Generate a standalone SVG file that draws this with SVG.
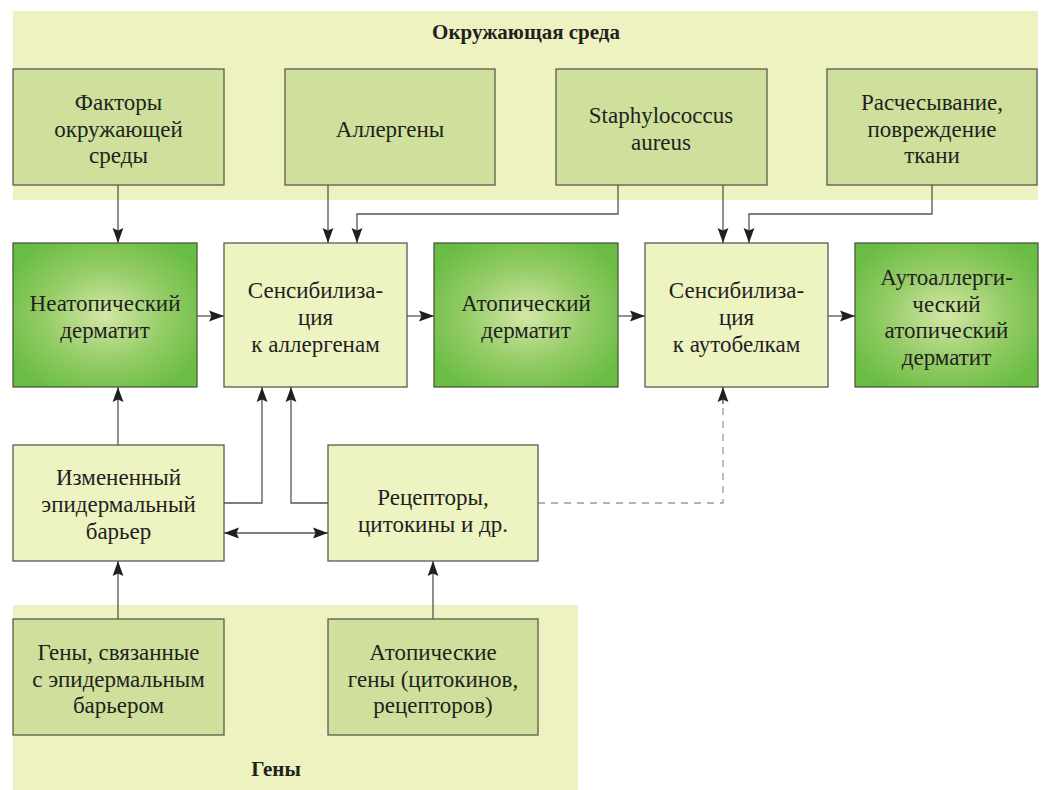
<svg xmlns="http://www.w3.org/2000/svg" width="1043" height="790" viewBox="0 0 1043 790">
<defs>
<radialGradient id="g" cx="50%" cy="50%" r="60%">
<stop offset="0" stop-color="#d4e7a6"/>
<stop offset="0.55" stop-color="#94cc66"/>
<stop offset="1" stop-color="#6abd44"/>
</radialGradient>
<marker id="a" markerUnits="userSpaceOnUse" markerWidth="16" markerHeight="12" viewBox="0 0 16 12" refX="15" refY="6" orient="auto-start-reverse">
<path d="M0,0.6 L15,6 L0,11.4 L2.5,6 z" fill="#231f20"/>
</marker>
<style>
.band{fill:#edf2c0}
.top{fill:#cee09c;stroke:#5a5a50;stroke-width:1.3}
.lt{fill:#eef3c2;stroke:#5a5a50;stroke-width:1.3}
.gr{fill:url(#g);stroke:#4a5a3a;stroke-width:1.3}
text{font-family:'Liberation Serif','Times New Roman',Times,Tinos,'DejaVu Serif','Noto Serif',Georgia,serif;font-size:23px;fill:#231f20;text-anchor:middle}
.b{font-weight:bold;font-size:21px}
.c{fill:none;stroke:#555;stroke-width:1.3}
.d{fill:none;stroke:#9a9a9a;stroke-width:1.3;stroke-dasharray:7 6}
</style>
</defs>
<rect class="band" x="13" y="11" width="1025" height="189"/>
<rect class="band" x="13" y="605" width="565" height="185"/>
<text class="b" x="526" y="39">Окружающая среда</text>
<text class="b" x="276" y="776">Гены</text>

<g id="connectors">
<path class="c" d="M118,185 V243" marker-end="url(#a)"/>
<path class="c" d="M328,185 V243" marker-end="url(#a)"/>
<path class="c" d="M618,185 V214 H357 V243" marker-end="url(#a)"/>
<path class="c" d="M723,185 V243" marker-end="url(#a)"/>
<path class="c" d="M932,185 V214 H749 V243" marker-end="url(#a)"/>
<path class="c" d="M197,316 H224" marker-end="url(#a)"/>
<path class="c" d="M407,316 H434" marker-end="url(#a)"/>
<path class="c" d="M618,316 H645" marker-end="url(#a)"/>
<path class="c" d="M828,316 H855" marker-end="url(#a)"/>
<path class="c" d="M118,445 V387" marker-end="url(#a)"/>
<path class="c" d="M224,503 H262 V387" marker-end="url(#a)"/>
<path class="c" d="M328,503 H291 V387" marker-end="url(#a)"/>
<path class="d" d="M538,503 H723 V400"/>
<path class="c" d="M723,404 V387" marker-end="url(#a)"/>
<path class="c" d="M224,533 H328" marker-start="url(#a)" marker-end="url(#a)"/>
<path class="c" d="M118,619 V561" marker-end="url(#a)"/>
<path class="c" d="M433,619 V561" marker-end="url(#a)"/>
</g>

<g id="n-factors"><rect class="top" x="13" y="69" width="211" height="116"/>
<text x="118.5" y="110">Факторы</text><text x="118.5" y="137">окружающей</text><text x="118.5" y="163">среды</text></g>
<g id="n-allergens"><rect class="top" x="285" y="69" width="210" height="116"/>
<text x="390" y="137">Аллергены</text></g>
<g id="n-staph"><rect class="top" x="556" y="69" width="211" height="116"/>
<text x="661" y="123">Staphylococcus</text><text x="661" y="150">aureus</text></g>
<g id="n-scratch"><rect class="top" x="827" y="69" width="210" height="116"/>
<text x="932" y="110">Расчесывание,</text><text x="932" y="137">повреждение</text><text x="932" y="163">ткани</text></g>

<g id="n-neatopic"><rect class="gr" x="13" y="243" width="184" height="144"/>
<text x="105" y="311">Неатопический</text><text x="105" y="338">дерматит</text></g>
<g id="n-sens1"><rect class="lt" x="224" y="243" width="183" height="144"/>
<text x="315.5" y="298">Сенсибилиза-</text><text x="315.5" y="325">ция</text><text x="315.5" y="352">к аллергенам</text></g>
<g id="n-atopic"><rect class="gr" x="434" y="243" width="184" height="144"/>
<text x="526" y="311">Атопический</text><text x="526" y="338">дерматит</text></g>
<g id="n-sens2"><rect class="lt" x="645" y="243" width="183" height="144"/>
<text x="736.5" y="298">Сенсибилиза-</text><text x="736.5" y="325">ция</text><text x="736.5" y="352">к аутобелкам</text></g>
<g id="n-autoallergic"><rect class="gr" x="855" y="243" width="183" height="144"/>
<text x="946.5" y="285">Аутоаллерги-</text><text x="946.5" y="312">ческий</text><text x="946.5" y="338">атопический</text><text x="946.5" y="365">дерматит</text></g>

<g id="n-barrier"><rect class="lt" x="13" y="445" width="211" height="116"/>
<text x="118.5" y="485">Измененный</text><text x="118.5" y="512">эпидермальный</text><text x="118.5" y="539">барьер</text></g>
<g id="n-receptors"><rect class="lt" x="328" y="445" width="210" height="116"/>
<text x="433" y="505">Рецепторы,</text><text x="433" y="532">цитокины и др.</text></g>

<g id="n-genes-barrier"><rect class="top" x="13" y="619" width="211" height="116"/>
<text x="118.5" y="660">Гены, связанные</text><text x="118.5" y="687">с эпидермальным</text><text x="118.5" y="713">барьером</text></g>
<g id="n-genes-atopic"><rect class="top" x="328" y="619" width="210" height="116"/>
<text x="433" y="660">Атопические</text><text x="433" y="687">гены (цитокинов,</text><text x="433" y="713">рецепторов)</text></g>
</svg>
